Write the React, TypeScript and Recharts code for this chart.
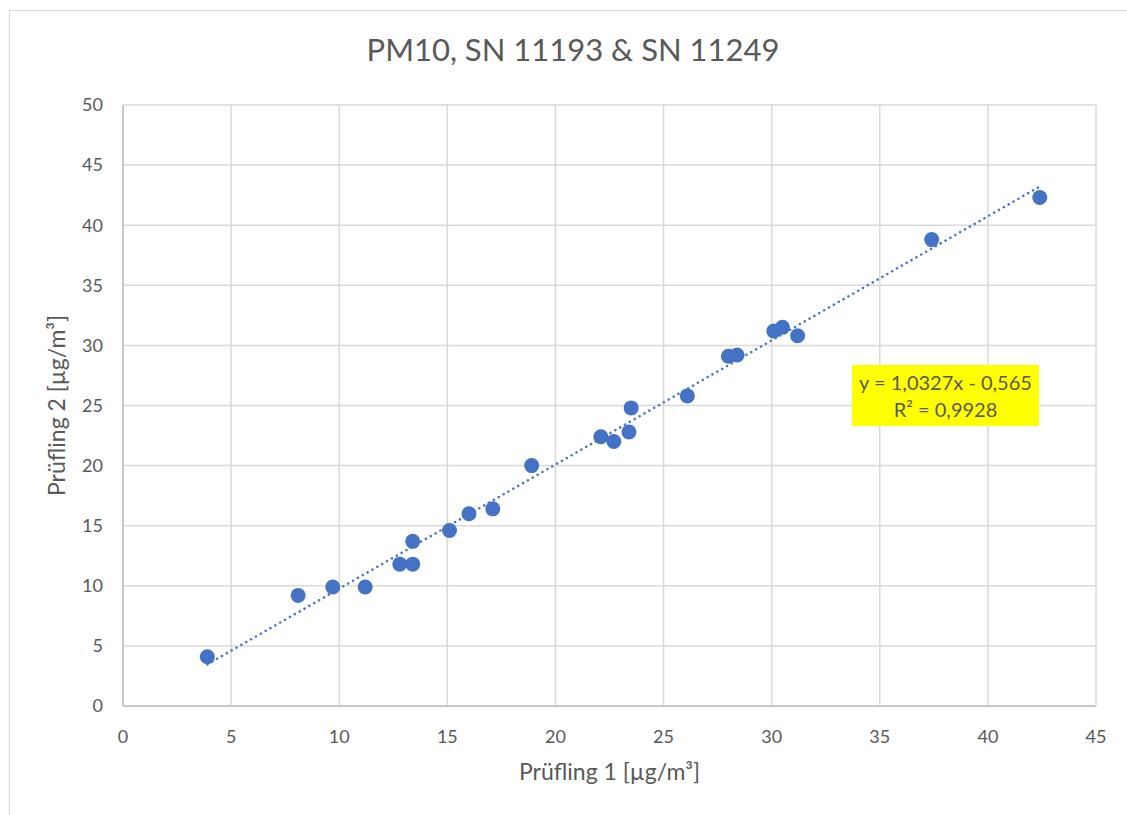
import {
  ScatterChart,
  Scatter,
  XAxis,
  YAxis,
  CartesianGrid,
  ReferenceLine,
} from "recharts";

const FONT = "Lato, 'Open Sans', sans-serif";
const TEXT = "#595959";

// Prüfling 1 (x) and Prüfling 2 (y), µg/m³
const pruefling1 = [
  3.9, 8.1, 9.7, 11.2, 12.8, 13.4, 13.4, 15.1, 16.0, 17.1, 18.9, 22.1, 22.7,
  23.4, 23.5, 26.1, 28.0, 28.4, 30.1, 30.5, 31.2, 37.4, 42.4,
];
const pruefling2 = [
  4.1, 9.2, 9.9, 9.9, 11.8, 11.8, 13.7, 14.6, 16.0, 16.4, 20.0, 22.4, 22.0,
  22.8, 24.8, 25.8, 29.1, 29.2, 31.2, 31.5, 30.8, 38.8, 42.3,
];

const xTicks = [0, 5, 10, 15, 20, 25, 30, 35, 40, 45];
const yTicks = [0, 5, 10, 15, 20, 25, 30, 35, 40, 45, 50];

// linear trendline as given in the chart
const slope = 1.0327;
const intercept = -0.565;
const trendFrom = 3.9;
const trendTo = 42.5;

const points = pruefling1.map((x, i) => ({ x, y: pruefling2[i] }));

const Dot = (props: any) => (
  <circle cx={props.cx} cy={props.cy} r={7.5} fill="#4472c4" />
);

export default function App() {
  return (
    <div
      style={{
        position: "absolute",
        left: 0,
        top: 0,
        width: 1127,
        height: 815,
        overflow: "hidden",
        background: "#fff",
        fontFamily: FONT,
      }}
    >
      {/* chart frame */}
      <div
        style={{
          position: "absolute",
          left: 9,
          top: 10,
          width: 1200,
          height: 900,
          border: "1px solid #d9d9d9",
        }}
      />
      <div
        style={{
          position: "absolute",
          left: 0,
          top: 30,
          width: 1146,
          textAlign: "center",
          fontSize: 31,
          color: TEXT,
        }}
      >
        PM10, SN 11193 &amp; SN 11249
      </div>

      <div style={{ position: "absolute", left: 0, top: 0 }}>
        <ScatterChart
          width={1127}
          height={815}
          margin={{ top: 105, right: 31, left: 0, bottom: 0 }}
        >
          <CartesianGrid stroke="#d9d9d9" strokeWidth={1.5} />
          <XAxis
            type="number"
            dataKey="x"
            domain={[0, 45]}
            ticks={xTicks}
            height={109}
            tickSize={0}
            tickMargin={24}
            stroke="#bfbfbf"
            strokeWidth={1.5}
            tick={{ fill: TEXT, fontSize: 18, fontFamily: FONT }}
            label={{
              value: "Prüfling 1 [µg/m³]",
              position: "center",
              dy: 11,
              fill: TEXT,
              fontSize: 23,
              fontFamily: FONT,
            }}
          />
          <YAxis
            type="number"
            dataKey="y"
            domain={[0, 50]}
            ticks={yTicks}
            width={123}
            tickSize={0}
            tickMargin={20}
            stroke="#bfbfbf"
            strokeWidth={1.5}
            tick={{ fill: TEXT, fontSize: 18, fontFamily: FONT }}
            label={{
              value: "Prüfling 2 [µg/m³]",
              angle: -90,
              position: "center",
              dx: -5,
              fill: TEXT,
              fontSize: 23,
              fontFamily: FONT,
            }}
          />
          <Scatter data={points} shape={Dot} isAnimationActive={false} />
          <ReferenceLine
            segment={[
              { x: trendFrom, y: slope * trendFrom + intercept },
              { x: trendTo, y: slope * trendTo + intercept },
            ]}
            stroke="#4472c4"
            strokeWidth={2.5}
            strokeDasharray="0.1 5.5"
            strokeLinecap="round"
            ifOverflow="visible"
          />
        </ScatterChart>
      </div>

      <div
        style={{
          position: "absolute",
          left: 852,
          top: 365,
          width: 187,
          height: 61,
          background: "#ffff00",
          color: TEXT,
          fontSize: 20,
          lineHeight: "27px",
          textAlign: "center",
          paddingTop: 4,
          boxSizing: "border-box",
        }}
      >
        y = 1,0327x - 0,565
        <br />
        R² = 0,9928
      </div>
    </div>
  );
}
